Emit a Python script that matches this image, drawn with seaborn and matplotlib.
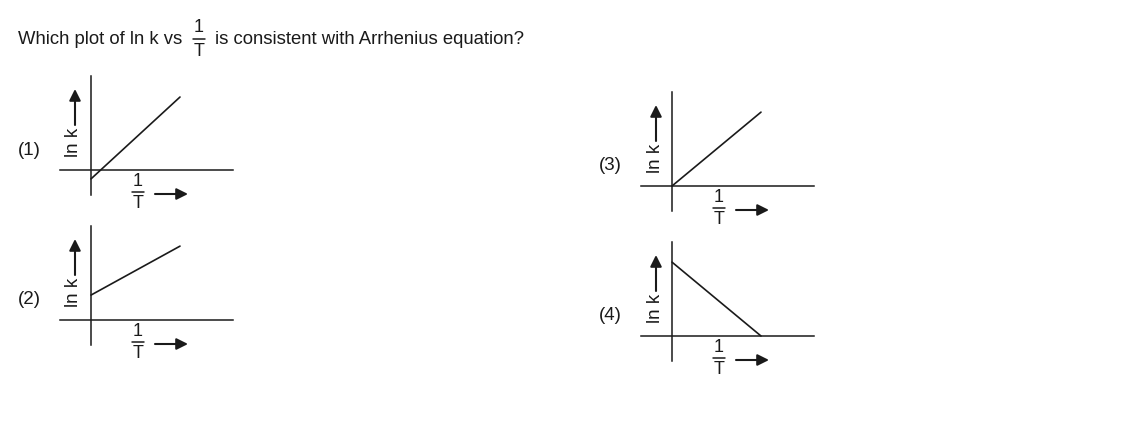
import matplotlib
matplotlib.use("Agg")
import matplotlib.pyplot as plt
import seaborn as sns
from matplotlib.lines import Line2D
from matplotlib.patches import FancyArrowPatch

sns.set_theme(style="white")
plt.rcParams['font.family'] = ['Liberation Sans', 'DejaVu Sans']

W, H = 1129, 446

# plot options: ln k vs 1/T lines (arbitrary units, origin at the axes crossing)
labels = ["(1)", "(2)", "(3)", "(4)"]
line_x = [[0.0, 1.0], [0.0, 1.0], [0.0, 1.0], [0.0, 1.0]]
line_y = [[-0.10, 0.82], [0.28, 0.83], [0.0, 0.83], [0.83, 0.0]]

# layout: axes crossing point in pixels, and how far the axes reach
origins = [(91, 170), (91, 320), (672, 186), (672, 336)]
reach = {"left": 31, "right": 142, "up": 94, "down": 25}
unit = 89.0  # pixels per data unit

ink = "#1a1a1a"


def fx(x):
    return x / W


def fy(y):
    return 1 - y / H


def fraction(fig, cx, cy, size=13):
    # "1 over T" drawn as two texts and a bar
    fig.text(fx(cx), fy(cy - 11), "1", ha="center", va="center", fontsize=size, color=ink)
    fig.text(fx(cx), fy(cy + 12), "T", ha="center", va="center", fontsize=size, color=ink)
    fig.add_artist(Line2D([fx(cx - 6), fx(cx + 6)], [fy(cy), fy(cy)],
                          transform=fig.transFigure, color=ink, lw=1.1))


def arrow(fig, p0, p1):
    fig.add_artist(FancyArrowPatch((fx(p0[0]), fy(p0[1])), (fx(p1[0]), fy(p1[1])),
                                   transform=fig.transFigure, arrowstyle="-|>",
                                   mutation_scale=17, lw=1.5, color=ink,
                                   shrinkA=0, shrinkB=0))


fig = plt.figure(figsize=(W / 100, H / 100), dpi=100)

# question text
fig.text(fx(18), fy(39), "Which plot of ln k vs", ha="left", va="center", fontsize=13.3, color=ink)
fraction(fig, 199, 39)
fig.text(fx(215), fy(39), "is consistent with Arrhenius equation?", ha="left", va="center",
         fontsize=13.3, color=ink)

for i, (ox, oy) in enumerate(origins):
    left = ox - reach["left"]
    right = ox + reach["right"]
    top = oy - reach["up"]
    bottom = oy + reach["down"]
    ax = fig.add_axes([fx(left), fy(bottom), (right - left) / W, (bottom - top) / H])
    ax.set_xlim(-reach["left"] / unit, reach["right"] / unit)
    ax.set_ylim(-reach["down"] / unit, reach["up"] / unit)
    ax.patch.set_alpha(0)
    for s in ["top", "right"]:
        ax.spines[s].set_visible(False)
    for s in ["left", "bottom"]:
        ax.spines[s].set_position(("data", 0))
        ax.spines[s].set_color(ink)
        ax.spines[s].set_linewidth(1.1)
    ax.set_xticks([])
    ax.set_yticks([])
    sns.lineplot(x=line_x[i], y=line_y[i], ax=ax, color=ink, lw=1.2)

    # panel number
    fig.text(fx(ox - 62), fy(oy - 20), labels[i], ha="center", va="center", fontsize=13.5, color=ink)
    # y label with arrow
    fig.text(fx(ox - 17), fy(oy - 28), "ln k", ha="center", va="center", rotation=90,
             fontsize=13.5, color=ink)
    arrow(fig, (ox - 16, oy - 45), (ox - 16, oy - 81))
    # x label with arrow
    fraction(fig, ox + 47, oy + 22)
    arrow(fig, (ox + 64, oy + 24), (ox + 97, oy + 24))

fig.savefig("out.png", dpi=100)
